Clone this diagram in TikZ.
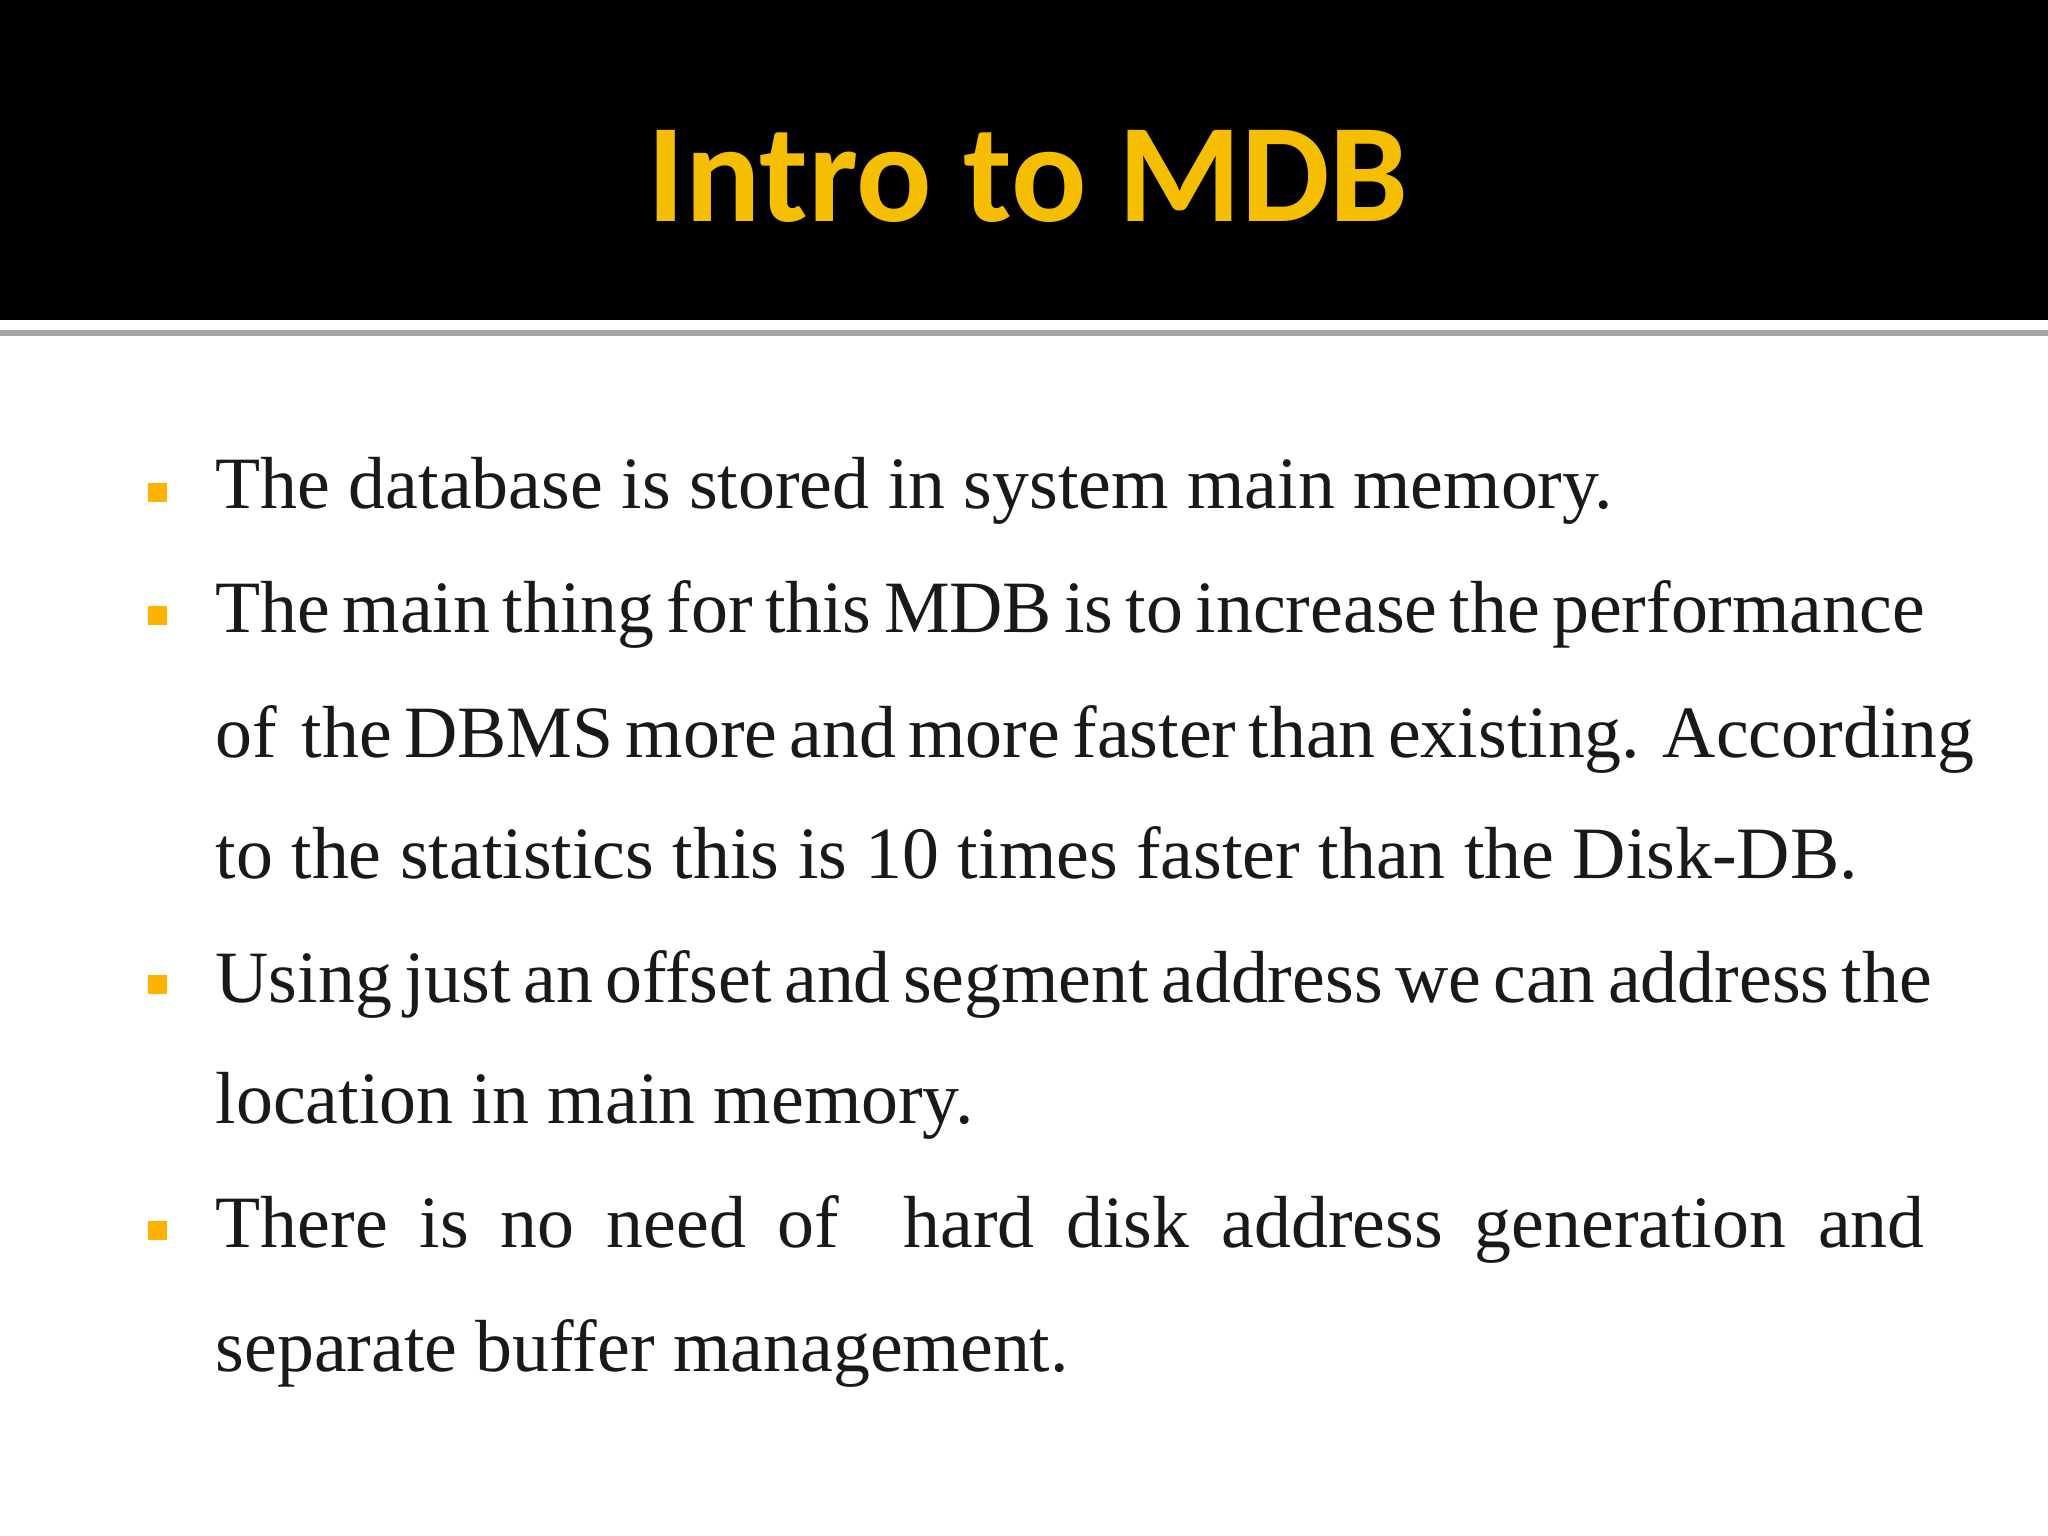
\documentclass[tikz,border=0pt]{standalone}
\usepackage{fontspec}
\setmainfont{Liberation Serif}
\newfontfamily\titlefont{Carlito}
\begin{document}
\begin{tikzpicture}[x=1cm,y=1cm,
  line/.style={anchor=base west,inner sep=0pt,font=\fontsize{21}{25}\selectfont,text=black!90},
  bul/.style={fill=orange!60!yellow,minimum size=0.19cm,inner sep=0pt}]
\useasboundingbox (0,0) rectangle (20.48,-15.36);
\fill[white] (0,0) rectangle (20.48,-15.36);
\fill[black] (0,0) rectangle (20.48,-3.20);
\draw[gray!70,line width=1.5pt] (0,-3.33) -- (20.48,-3.33);
\node[font=\titlefont\bfseries\fontsize{40}{44}\selectfont,text={rgb,255:red,245;green,190;blue,0}] (title) at (10.28,-1.76) {Intro to MDB};
\def\W{17.09cm}
\node[bul] (b1) at (1.57,-4.93) {};
\node[line] (l1) at (2.15,-5.09) {The database is stored in system main memory.};
\node[bul] (b2) at (1.57,-6.16) {};
\node[line] (l2) at (2.15,-6.33) {\makebox[\W][s]{The main thing for this MDB is to increase the performance}};
\node[line] (l3) at (2.15,-7.57) {\makebox[\W][s]{of~ the DBMS more and more faster than existing. According}};
\node[line] (l4) at (2.15,-8.79) {to the statistics this is 10 times faster than the Disk-DB.};
\node[bul] (b3) at (1.57,-9.84) {};
\node[line] (l5) at (2.15,-10.02) {\makebox[\W][s]{Using just an offset and segment address we can address the}};
\node[line] (l6) at (2.15,-11.23) {location in main memory.};
\node[bul] (b4) at (1.57,-12.30) {};
\node[line] (l7) at (2.15,-12.47) {\makebox[\W][s]{There is no need of~ hard disk address generation and}};
\node[line] (l8) at (2.15,-13.71) {separate buffer management.};
\end{tikzpicture}
\end{document}
